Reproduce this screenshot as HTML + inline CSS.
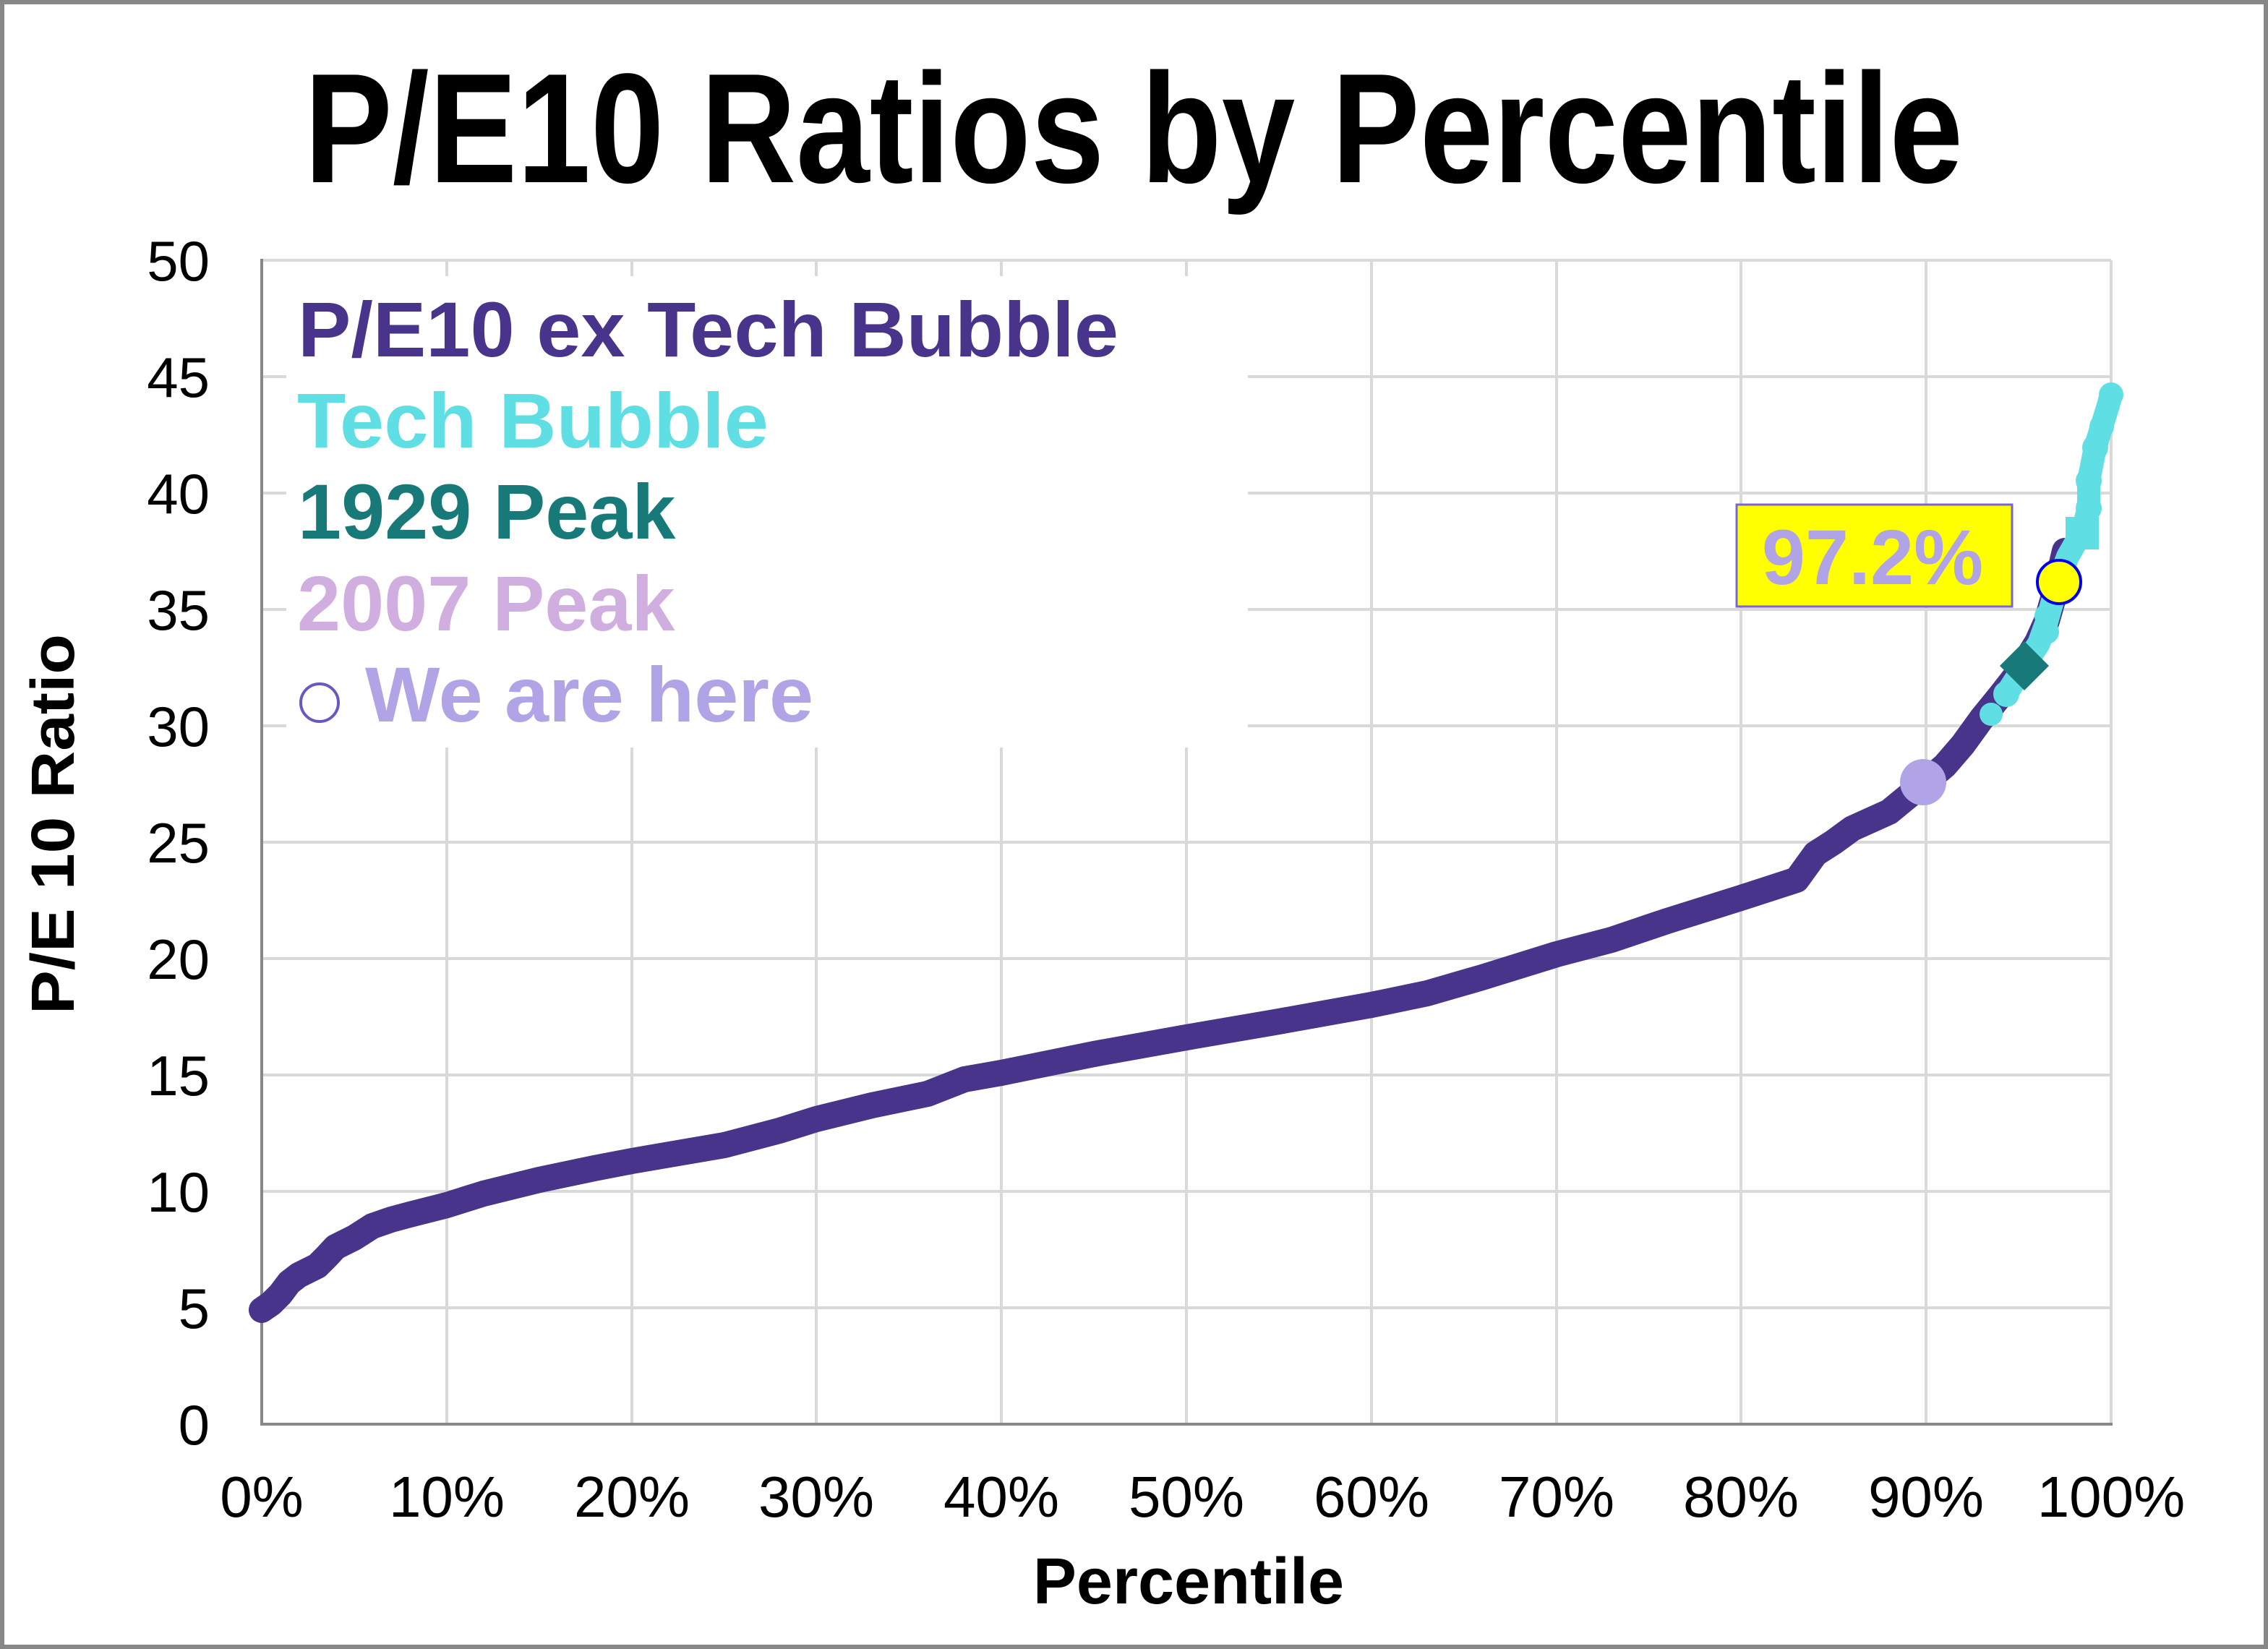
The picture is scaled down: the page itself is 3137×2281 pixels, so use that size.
<!DOCTYPE html>
<html><head><meta charset="utf-8"><style>html,body{margin:0;padding:0;background:#fff}svg{display:block}</style></head>
<body>
<svg width="3137" height="2281" viewBox="0 0 3137 2281" xmlns="http://www.w3.org/2000/svg" font-family="Liberation Sans, Arial, sans-serif">
<rect x="3" y="3" width="3131" height="2275" fill="#fff" stroke="#878787" stroke-width="6"/>
<text x="1568" y="252" font-size="216" font-weight="bold" text-anchor="middle" textLength="2294" lengthAdjust="spacingAndGlyphs">P/E10 Ratios by Percentile</text>
<g stroke="#d9d9d9" stroke-width="4">
<line x1="362" y1="360" x2="2920" y2="360"/><line x1="362" y1="521" x2="2920" y2="521"/><line x1="362" y1="682" x2="2920" y2="682"/><line x1="362" y1="843" x2="2920" y2="843"/><line x1="362" y1="1004" x2="2920" y2="1004"/><line x1="362" y1="1165" x2="2920" y2="1165"/><line x1="362" y1="1326" x2="2920" y2="1326"/><line x1="362" y1="1487" x2="2920" y2="1487"/><line x1="362" y1="1648" x2="2920" y2="1648"/><line x1="362" y1="1809" x2="2920" y2="1809"/>
<line x1="618" y1="360" x2="618" y2="1970"/><line x1="874" y1="360" x2="874" y2="1970"/><line x1="1129" y1="360" x2="1129" y2="1970"/><line x1="1385" y1="360" x2="1385" y2="1970"/><line x1="1641" y1="360" x2="1641" y2="1970"/><line x1="1897" y1="360" x2="1897" y2="1970"/><line x1="2153" y1="360" x2="2153" y2="1970"/><line x1="2408" y1="360" x2="2408" y2="1970"/><line x1="2664" y1="360" x2="2664" y2="1970"/><line x1="2920" y1="360" x2="2920" y2="1970"/>
</g>
<g stroke="#878787" stroke-width="4"><line x1="362" y1="358" x2="362" y2="1972"/><line x1="360" y1="1970" x2="2922" y2="1970"/></g>
<rect x="396" y="382" width="1330" height="652" fill="#fff"/>
<g font-size="78" text-anchor="end">
<text x="290" y="388">50</text><text x="290" y="549">45</text><text x="290" y="710">40</text><text x="290" y="871">35</text><text x="290" y="1032">30</text><text x="290" y="1193">25</text><text x="290" y="1354">20</text><text x="290" y="1515">15</text><text x="290" y="1676">10</text><text x="290" y="1837">5</text><text x="290" y="1998">0</text>
</g>
<g font-size="80" text-anchor="middle">
<text x="362" y="2098">0%</text><text x="618" y="2098">10%</text><text x="874" y="2098">20%</text><text x="1129" y="2098">30%</text><text x="1385" y="2098">40%</text><text x="1641" y="2098">50%</text><text x="1897" y="2098">60%</text><text x="2153" y="2098">70%</text><text x="2408" y="2098">80%</text><text x="2664" y="2098">90%</text><text x="2920" y="2098">100%</text>
</g>
<text x="1644" y="2218" font-size="90" font-weight="bold" text-anchor="middle">Percentile</text>
<text transform="translate(102,1140) rotate(-90)" font-size="84" font-weight="bold" text-anchor="middle" textLength="526" lengthAdjust="spacingAndGlyphs">P/E 10 Ratio</text>
<g font-size="108" font-weight="bold">
<text x="412" y="493" fill="#48358b" textLength="1135" lengthAdjust="spacingAndGlyphs">P/E10 ex Tech Bubble</text>
<text x="411" y="619" fill="#5fdfe3" textLength="652" lengthAdjust="spacingAndGlyphs">Tech Bubble</text>
<text x="412" y="745" fill="#177a79">1929 Peak</text>
<text x="411" y="872" fill="#d0aee0">2007 Peak</text>
<text x="505" y="998" fill="#b0a4e6" textLength="620" lengthAdjust="spacingAndGlyphs">We are here</text>
</g>
<circle cx="442" cy="972" r="26" fill="#fff" stroke="#6a58c0" stroke-width="4"/>
<polyline fill="none" stroke="#48358b" stroke-width="36" stroke-linecap="round" stroke-linejoin="round" points="362,1812 375,1803 388,1790 400,1774 413,1764 439,1751 452,1738 464,1725 490,1712 515,1696 541,1687 567,1680 618,1667 669,1651 746,1632 822,1616 874,1606 1002,1584 1078,1564 1129,1548 1206,1529 1283,1513 1334,1493 1385,1484 1513,1458 1641,1435 1769,1413 1897,1390 1974,1374 2050,1352 2153,1320 2229,1300 2306,1274 2408,1242 2485,1217 2511,1181 2536,1165 2562,1146 2613,1123 2664,1081 2690,1059 2715,1030 2741,994 2767,962 2792,930 2818,888 2831,859 2843,817 2856,762"/>
<polyline fill="none" stroke="#5fdfe3" stroke-width="32" stroke-linecap="round" stroke-linejoin="round" points="2775,960 2800,921 2820,890 2831,860 2845,810 2860,770 2880,735 2889,703 2889,665 2898,619 2907,590 2916,561 2920,546"/>
<g fill="#5fdfe3">
<circle cx="2754" cy="988" r="16"/><circle cx="2775" cy="960" r="18"/><circle cx="2831" cy="874" r="17"/><circle cx="2831" cy="852" r="17"/><circle cx="2889" cy="703" r="18"/><circle cx="2889" cy="665" r="18"/><circle cx="2898" cy="619" r="18"/><circle cx="2907" cy="590" r="17"/><circle cx="2916" cy="561" r="16"/><circle cx="2920" cy="546" r="17"/>
<rect x="2857" y="715" width="46" height="45"/>
</g>
<polygon points="2800,887 2834,921 2800,955 2766,921" fill="#177a79"/>
<circle cx="2660" cy="1082" r="32" fill="#b0a4e6"/>
<circle cx="2848" cy="805" r="30" fill="#ffff00" stroke="#0000ee" stroke-width="4"/>
<rect x="2402" y="698" width="381" height="141" fill="#ffff00" stroke="#7a66cc" stroke-width="3"/>
<text x="2590" y="808" font-size="108" font-weight="bold" fill="#b0a4e6" text-anchor="middle">97.2%</text>
</svg>
</body></html>
